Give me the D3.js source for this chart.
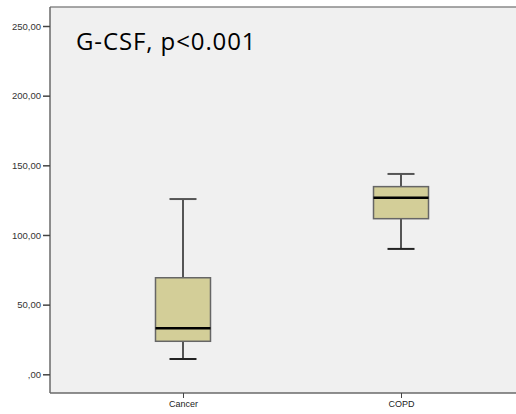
<!DOCTYPE html>
<html><head><meta charset="utf-8">
<script src="https://cdn.jsdelivr.net/npm/d3@7"></script>
<style>body{margin:0;background:#fff}svg{display:block}</style>
</head><body>
<script>
const categories = ["Cancer", "COPD"];
const whiskerLow = [11, 90];
const q1 = [23.7, 111.7];
const median = [33, 126.8];
const q3 = [69.3, 134.7];
const whiskerHigh = [125.8, 143.8];
const yTicks = [0, 50, 100, 150, 200, 250];
const title = "G-CSF, p<0.001";

(function () {
const W = 516, H = 414;
const svg = d3.select("body").append("svg").attr("width", W).attr("height", H);
const pl = 50, pt = 7, pr = 516, pb = 393;

svg.append("rect").attr("x", pl).attr("y", pt).attr("width", pr - pl).attr("height", pb - pt)
  .attr("fill", "#f0f0f0");

const y = d3.scaleLinear().domain([0, 250]).range([374.3, 26]);
const x = d3.scalePoint().domain(categories).range([pl, 534]).padding(0.61);

svg.append("line").attr("x1", pl).attr("x2", pr).attr("y1", pt).attr("y2", pt).attr("stroke", "#8a8a8a").attr("stroke-width", 1.5);
svg.append("line").attr("x1", pl).attr("x2", pr).attr("y1", pb).attr("y2", pb).attr("stroke", "#6a6a6a").attr("stroke-width", 1.5);
svg.append("line").attr("x1", pl).attr("x2", pl).attr("y1", pt).attr("y2", pb).attr("stroke", "#6a6a6a").attr("stroke-width", 1.5);

const yAxis = d3.axisLeft(y).tickValues(yTicks).tickSize(7).tickPadding(2)
  .tickFormat(d => d === 0 ? ",00" : d3.format("d")(d) + ",00");
const ya = svg.append("g").attr("transform", `translate(${pl},0)`).call(yAxis);
ya.select(".domain").remove();
ya.selectAll("line").attr("stroke", "#444").attr("stroke-width", 1.5);
ya.selectAll("text").attr("font-family", "Liberation Sans, Arial, sans-serif").attr("font-size", 9.5).attr("fill", "#333");

const xAxis = d3.axisBottom(x).tickSize(5).tickPadding(3);
const xa = svg.append("g").attr("transform", `translate(0,${pb})`).call(xAxis);
xa.select(".domain").remove();
xa.selectAll("line").attr("stroke", "#444").attr("stroke-width", 1);
xa.selectAll("text").attr("font-family", "Liberation Sans, Arial, sans-serif").attr("font-size", 9).attr("fill", "#222");

const boxW = 55, capW = 27;
categories.forEach((c, i) => {
  const cx = x(c);
  const g = svg.append("g");
  g.append("line").attr("x1", cx).attr("x2", cx).attr("y1", y(whiskerHigh[i])).attr("y2", y(q3[i])).attr("stroke", "#555").attr("stroke-width", 2);
  g.append("line").attr("x1", cx).attr("x2", cx).attr("y1", y(q1[i])).attr("y2", y(whiskerLow[i])).attr("stroke", "#555").attr("stroke-width", 2);
  g.append("line").attr("x1", cx - capW / 2).attr("x2", cx + capW / 2).attr("y1", y(whiskerHigh[i])).attr("y2", y(whiskerHigh[i])).attr("stroke", "#555").attr("stroke-width", 2);
  g.append("line").attr("x1", cx - capW / 2).attr("x2", cx + capW / 2).attr("y1", y(whiskerLow[i])).attr("y2", y(whiskerLow[i])).attr("stroke", "#222").attr("stroke-width", 2);
  g.append("rect").attr("x", cx - boxW / 2).attr("y", y(q3[i])).attr("width", boxW).attr("height", y(q1[i]) - y(q3[i]))
    .attr("fill", "#d3ce98").attr("stroke", "#666").attr("stroke-width", 1.5);
  g.append("line").attr("x1", cx - boxW / 2).attr("x2", cx + boxW / 2).attr("y1", y(median[i])).attr("y2", y(median[i])).attr("stroke", "#000").attr("stroke-width", 2.5);
});

svg.append("text").attr("x", 76).attr("y", 50).attr("font-family", "Open Sans, Liberation Sans, sans-serif")
  .attr("font-size", 24).attr("letter-spacing", 0.9).attr("fill", "#000").text(title);
})();
</script>
</body></html>
